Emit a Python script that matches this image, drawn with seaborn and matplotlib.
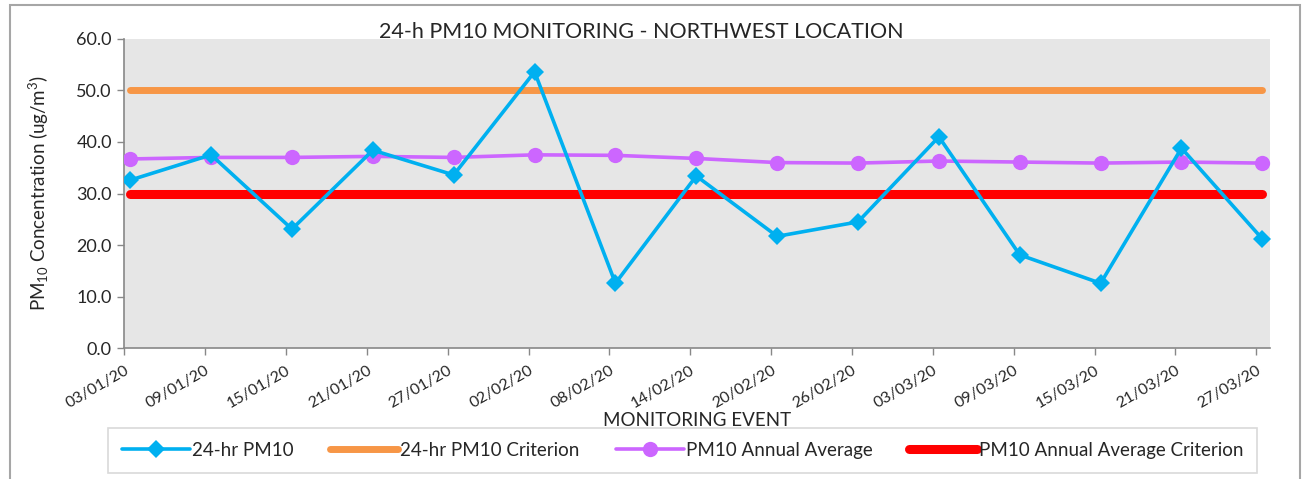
#24-h PM10 monitoring chart - northwest location
import numpy as np
import pandas as pd
import matplotlib.pyplot as plt
import matplotlib.transforms as mtransforms
import seaborn as sns
from matplotlib.patches import Rectangle

sns.set_style("white")
plt.rcParams['font.family'] = ['Lato', 'DejaVu Sans']
plt.rcParams['mathtext.default'] = 'regular'

#Data
dates = ['03/01/20', '09/01/20', '15/01/20', '21/01/20', '27/01/20', '02/02/20', '08/02/20',
         '14/02/20', '20/02/20', '26/02/20', '03/03/20', '09/03/20', '15/03/20', '21/03/20', '27/03/20']
pm10_24h = [32.6, 37.5, 23.1, 38.4, 33.6, 53.6, 12.6, 33.4, 21.7, 24.5, 41.0, 18.1, 12.6, 38.8, 21.2]
pm10_annual = [36.7, 37.0, 37.0, 37.2, 37.0, 37.5, 37.4, 36.8, 36.0, 35.9, 36.3, 36.1, 35.9, 36.1, 35.9]
crit_24h = 50.0
crit_annual = 30.0

df = pd.DataFrame({'event': np.arange(len(dates)),
                   '24-hr PM10': pm10_24h,
                   'PM10 Annual Average': pm10_annual})
df['24-hr PM10 Criterion'] = crit_24h
df['PM10 Annual Average Criterion'] = crit_annual

fig = plt.figure(figsize=(13.03, 4.79), dpi=100)
ax = fig.add_axes([0.095, 0.273, 0.88, 0.646])
ax.set_facecolor('#e6e6e6')

sns.lineplot(data=df, x='event', y='24-hr PM10', ax=ax, color='#00b0f0', lw=2.6,
             marker='D', markersize=9, markeredgewidth=0, label='24-hr PM10', zorder=4)
sns.lineplot(data=df, x='event', y='24-hr PM10 Criterion', ax=ax, color='#f79646', lw=5,
             solid_capstyle='round', label='24-hr PM10 Criterion', zorder=2)
sns.lineplot(data=df, x='event', y='PM10 Annual Average', ax=ax, color='#cc66ff', lw=2.6,
             marker='o', markersize=11, markeredgewidth=0, label='PM10 Annual Average', zorder=3)
sns.lineplot(data=df, x='event', y='PM10 Annual Average Criterion', ax=ax, color='#ff0000', lw=6.5,
             solid_capstyle='round', label='PM10 Annual Average Criterion', zorder=2)

#ticks sit a bit left of the points, like the original
ax.set_xlim(-0.08, len(dates) - 1 + 0.1)
ax.set_xticks(np.arange(len(dates)) - 0.075)
ax.set_xticklabels(dates, rotation=30, ha='right', rotation_mode='anchor', fontsize=11.5)
shift = mtransforms.ScaledTranslation(6 / 100, 0, fig.dpi_scale_trans)
for lbl in ax.get_xticklabels():
    lbl.set_transform(lbl.get_transform() + shift)
ax.set_ylim(0, 60)
ax.set_yticks(np.arange(0, 61, 10))
ax.set_yticklabels([f'{v:.1f}' for v in np.arange(0, 61, 10)], fontsize=13)
ax.tick_params(axis='both', direction='out', length=5, width=1, color='#888888', left=True, bottom=True)
ax.tick_params(axis='x', pad=6)

for s in ['top', 'right']:
    ax.spines[s].set_visible(False)
for s in ['left', 'bottom']:
    ax.spines[s].set_color('#888888')
    ax.spines[s].set_linewidth(1.2)

ax.set_xlabel('MONITORING EVENT', fontsize=13.5, labelpad=1)
ax.set_ylabel('PM$_{10}$ Concentration (ug/m$^3$)', fontsize=13.5, labelpad=18)
fig.text(0.492, 0.921, '24-h PM10 MONITORING - NORTHWEST LOCATION', ha='center', va='baseline',
         fontsize=15.5)

ax.get_legend().remove()
h, l = ax.get_legend_handles_labels()
leg = fig.legend(h, l, ncol=4, loc='lower left', bbox_to_anchor=(0.083, 0.013, 0.882, 0.085),
                 mode='expand', fontsize=13.5, handlelength=3.6, handletextpad=0.1,
                 borderpad=0.75, frameon=True, fancybox=False, borderaxespad=0)
leg.get_frame().set_edgecolor('#d0d0d0')
leg.get_frame().set_linewidth(1.2)

fig.patches.append(Rectangle((0.008, -0.01), 0.99, 0.999, transform=fig.transFigure,
                             fill=False, edgecolor='#a6a6a6', lw=1.5))

plt.savefig('out.png', dpi=100)
